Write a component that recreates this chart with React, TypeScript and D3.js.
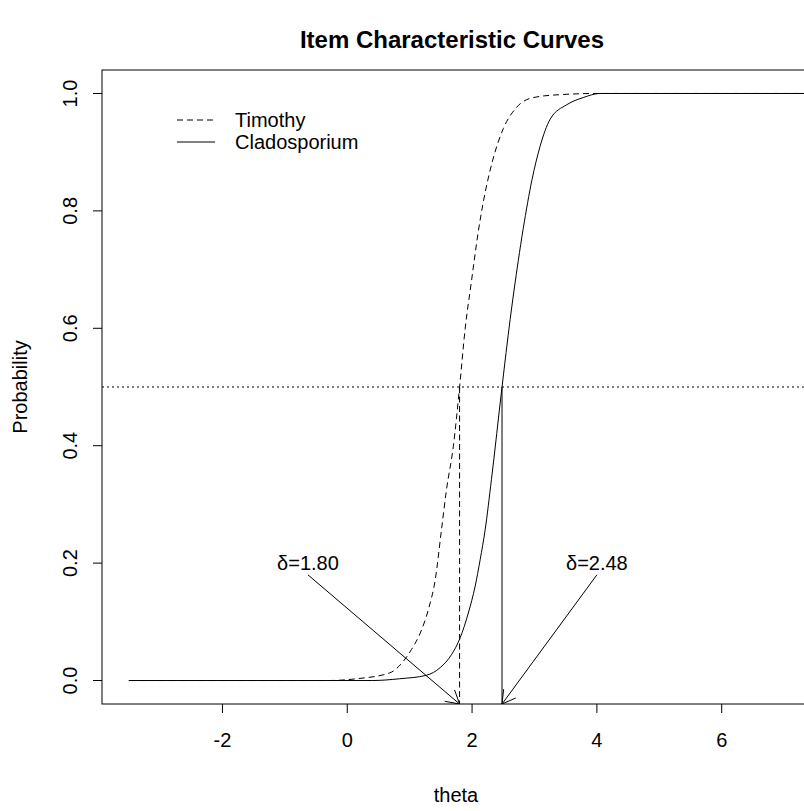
import React from 'react';
import * as d3 from 'd3';

// values
const thetaTimothy = [-3.5, -0.3, 0.15, 0.68, 0.9, 1.03, 1.17, 1.3, 1.41, 1.51, 1.59, 1.7, 1.8, 1.89, 1.99, 2.1, 2.18, 2.34, 2.5, 2.71, 2.98, 3.41, 4.0, 7.4];
const probTimothy = [0, 0, 0.003, 0.013, 0.033, 0.053, 0.081, 0.121, 0.172, 0.257, 0.325, 0.399, 0.5, 0.6, 0.68, 0.765, 0.815, 0.89, 0.94, 0.976, 0.993, 0.998, 1, 1];

const thetaClado = [-3.5, 0.4, 0.84, 1.27, 1.49, 1.67, 1.81, 1.94, 2.05, 2.13, 2.21, 2.31, 2.48, 2.61, 2.74, 2.82, 2.96, 3.09, 3.25, 3.52, 3.78, 4.05, 7.4];
const probClado = [0, 0, 0.003, 0.009, 0.022, 0.044, 0.073, 0.115, 0.161, 0.206, 0.257, 0.342, 0.5, 0.615, 0.715, 0.77, 0.853, 0.91, 0.956, 0.981, 0.993, 1, 1];

const seriesNames = ['Timothy', 'Cladosporium'];
const deltas = [1.8, 2.48];
const deltaLabelX = [-0.63, 4.0];
const deltaLabelY = 0.2;
const arrowStartY = 0.18;

const xTicks = [-2, 0, 2, 4, 6];
const yTicks = [0, 0.2, 0.4, 0.6, 0.8, 1.0];

const W = 804;
const H = 811;
const margin = { top: 70, right: -6, bottom: 107, left: 102 };
const FONT = '"Liberation Sans", Arial, sans-serif';

export default function App() {
  const innerRight = W - margin.right;
  const innerBottom = H - margin.bottom;

  const x = d3.scaleLinear().domain([-3.93, 7.415]).range([margin.left, innerRight]);
  const y = d3.scaleLinear().domain([-0.04, 1.04]).range([innerBottom, margin.top]);

  const line = d3.line<[number, number]>()
    .x(d => x(d[0]))
    .y(d => y(d[1]))
    .curve(d3.curveMonotoneX);

  const timothy = line(thetaTimothy.map((t, i) => [t, probTimothy[i]] as [number, number])) || '';
  const clado = line(thetaClado.map((t, i) => [t, probClado[i]] as [number, number])) || '';

  // arrow with R-style open head
  const arrow = (x1: number, y1: number, x2: number, y2: number) => {
    const ang = Math.atan2(y2 - y1, x2 - x1);
    const len = 15;
    const a1 = ang + Math.PI - Math.PI / 6;
    const a2 = ang + Math.PI + Math.PI / 6;
    return `M${x1},${y1}L${x2},${y2}M${x2 + len * Math.cos(a1)},${y2 + len * Math.sin(a1)}L${x2},${y2}L${x2 + len * Math.cos(a2)},${y2 + len * Math.sin(a2)}`;
  };

  return (
    <svg width={W} height={H} style={{ position: 'absolute', left: 0, top: 0, background: '#fff' }}
      fontFamily={FONT}>
      <defs>
        <clipPath id="plotClip">
          <rect x={margin.left} y={margin.top} width={innerRight - margin.left} height={innerBottom - margin.top} />
        </clipPath>
      </defs>

      <text x={452} y={48} textAnchor="middle" fontSize={24} fontWeight="bold" fill="#000">
        Item Characteristic Curves
      </text>

      <g clipPath="url(#plotClip)" fill="none" stroke="#000" strokeWidth={1}>
        {/* 0.5 reference line */}
        <line x1={margin.left} x2={innerRight} y1={y(0.5)} y2={y(0.5)} strokeDasharray="2,3" />
        <path d={timothy} strokeDasharray="6,4" />
        <path d={clado} />
        {/* difficulty drop lines */}
        <line x1={x(deltas[0])} x2={x(deltas[0])} y1={y(0.5)} y2={y(-0.04)} strokeDasharray="6,3.5" />
        <line x1={x(deltas[1])} x2={x(deltas[1])} y1={y(0.5)} y2={y(-0.04)} />
        {deltas.map((d, i) => (
          <path key={i} d={arrow(x(deltaLabelX[i]), y(arrowStartY), x(d), y(-0.04))} />
        ))}
      </g>

      {deltas.map((d, i) => (
        <text key={i} x={x(deltaLabelX[i])} y={y(deltaLabelY) + 7} textAnchor="middle" fontSize={20} fill="#000">
          {`δ=${d.toFixed(2)}`}
        </text>
      ))}

      {/* legend */}
      <g>
        <line x1={177} x2={215} y1={120} y2={120} stroke="#000" strokeDasharray="6,4" />
        <line x1={177} x2={215} y1={142} y2={142} stroke="#000" />
        <text x={235} y={127} fontSize={20} fill="#000">{seriesNames[0]}</text>
        <text x={235} y={149} fontSize={20} fill="#000">{seriesNames[1]}</text>
      </g>

      {/* box */}
      <rect x={margin.left} y={margin.top} width={innerRight - margin.left} height={innerBottom - margin.top}
        fill="none" stroke="#000" strokeWidth={1} />

      {/* x axis */}
      <g>
        {xTicks.map(t => (
          <g key={t}>
            <line x1={x(t)} x2={x(t)} y1={innerBottom} y2={innerBottom + 9} stroke="#000" />
            <text x={x(t)} y={747} textAnchor="middle" fontSize={20} fill="#000">{t}</text>
          </g>
        ))}
        <text x={456} y={802} textAnchor="middle" fontSize={20} fill="#000">theta</text>
      </g>

      {/* y axis */}
      <g>
        {yTicks.map(t => (
          <g key={t}>
            <line x1={margin.left - 9} x2={margin.left} y1={y(t)} y2={y(t)} stroke="#000" />
            <text transform={`translate(77,${y(t)}) rotate(-90)`} textAnchor="middle" fontSize={20} fill="#000">
              {t.toFixed(1)}
            </text>
          </g>
        ))}
        <text transform={`translate(27,${y(0.5)}) rotate(-90)`} textAnchor="middle" fontSize={20} fill="#000">
          Probability
        </text>
      </g>
    </svg>
  );
}
